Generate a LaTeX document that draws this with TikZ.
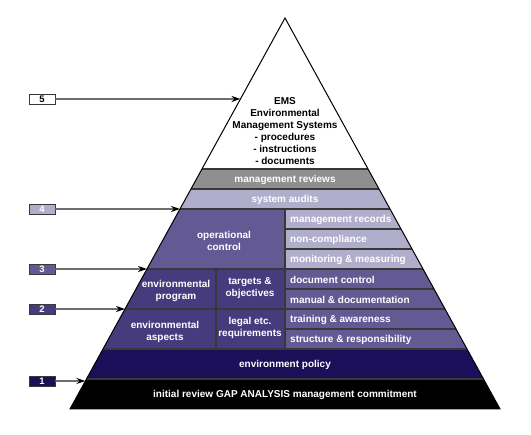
\documentclass[tikz,border=0pt]{standalone}
\usepackage{fontspec}
\setmainfont{Liberation Sans}
\usetikzlibrary{arrows.meta,calc}
\definecolor{revgray}{HTML}{8F8F8F}
\definecolor{lightlav}{HTML}{B1AECB}
\definecolor{midlav}{HTML}{635A93}
\definecolor{darklav}{HTML}{463C7D}
\definecolor{navyblue}{HTML}{1B0F5A}
\definecolor{arrowgray}{HTML}{6E6E6E}
\definecolor{rulegray}{HTML}{383838}
\begin{document}
\begin{tikzpicture}[x=1pt,y=-1pt,
    lbl/.style={font=\bfseries\fontsize{10}{12}\selectfont, text=white, align=center, inner sep=0pt},
    rowtxt/.style={lbl, anchor=west},
    numbox/.style={draw=rulegray, line width=0.8pt, minimum width=26pt, minimum height=10pt, inner sep=0pt, font=\bfseries\fontsize{9.5}{9.5}\selectfont, text=white},
    levelarrow/.style={draw=arrowgray, line width=1.6pt, -{Stealth[color=black, length=9pt, width=6pt]}},
    cellrule/.style={draw=rulegray, line width=1.2pt}
]
    \useasboundingbox (0,0) rectangle (531,435);
    \coordinate (apex) at (285,18);
    \coordinate (bl) at (70,409);
    \coordinate (br) at (500,409);

    % layers, clipped to the pyramid
    \begin{scope}
        \clip (apex) -- (bl) -- (br) -- cycle;
        \fill[white] (0,0) rectangle (531,169);
        \fill[revgray] (0,169) rectangle (531,189);
        \fill[lightlav] (0,189) rectangle (531,209);
        \fill[midlav] (0,209) rectangle (285,269);
        \fill[lightlav] (285,209) rectangle (531,269);
        \fill[darklav] (0,269) rectangle (285,349);
        \fill[midlav] (285,269) rectangle (531,349);
        \fill[navyblue] (0,349) rectangle (531,379);
        \fill[black] (0,379) rectangle (531,409);
        \foreach \y in {169,189,209,269,309,349,379}
            \draw[cellrule] (0,\y) -- (531,\y);
        \foreach \y in {229,249,289,329}
            \draw[cellrule] (285,\y) -- (531,\y);
        \draw[cellrule] (285,209) -- (285,349);
        \draw[cellrule] (216,269) -- (216,349);
    \end{scope}
    \draw[black, line width=1pt] (apex) -- (bl) -- (br) -- cycle;

    % texts
    \node[lbl, text=black] (ems) at (285,131) {EMS\\Environmental\\Management Systems\\- procedures\\- instructions\\- documents};
    \node[lbl] (reviews) at (285,180) {management reviews};
    \node[lbl] (audits) at (285,200) {system audits};
    \node[lbl] (opctrl) at (224,241) {operational\\control};
    \node[rowtxt] (records) at (290,220) {management records};
    \node[rowtxt] (noncomp) at (290,240) {non-compliance};
    \node[rowtxt] (monitor) at (290,260) {monitoring \& measuring};
    \node[rowtxt] (docctrl) at (290,280) {document control};
    \node[rowtxt] (manual) at (290,300) {manual \& documentation};
    \node[rowtxt] (training) at (290,320) {training \& awareness};
    \node[rowtxt] (structure) at (290,340) {structure \& responsibility};
    \node[lbl] (envprog) at (176,291) {environmental\\program};
    \node[lbl] (targets) at (250,288) {targets \&\\objectives};
    \node[lbl] (aspects) at (165,332) {environmental\\aspects};
    \node[lbl] (legal) at (250,328) {legal etc.\\requirements};
    \node[lbl] (policy) at (285,365) {environment policy};
    \node[lbl] (initial) at (285,395) {initial review GAP ANALYSIS management commitment};

    % level markers
    \node[numbox, fill=white, text=black] (lvl5) at (42,99) {5};
    \node[numbox, fill=lightlav] (lvl4) at (42,209) {4};
    \node[numbox, fill=midlav] (lvl3) at (42,269) {3};
    \node[numbox, fill=darklav] (lvl2) at (42,309) {2};
    \node[numbox, fill=navyblue] (lvl1) at (42,381) {1};
    \coordinate (edge5) at ($(apex)!{81/391}!(bl)$);
    \coordinate (edge4) at ($(apex)!{191/391}!(bl)$);
    \coordinate (edge3) at ($(apex)!{251/391}!(bl)$);
    \coordinate (edge2) at ($(apex)!{291/391}!(bl)$);
    \coordinate (edge1) at ($(apex)!{363/391}!(bl)$);
    \foreach \i in {1,...,5}
        \draw[levelarrow] (lvl\i.east) -- (edge\i);
\end{tikzpicture}
\end{document}
